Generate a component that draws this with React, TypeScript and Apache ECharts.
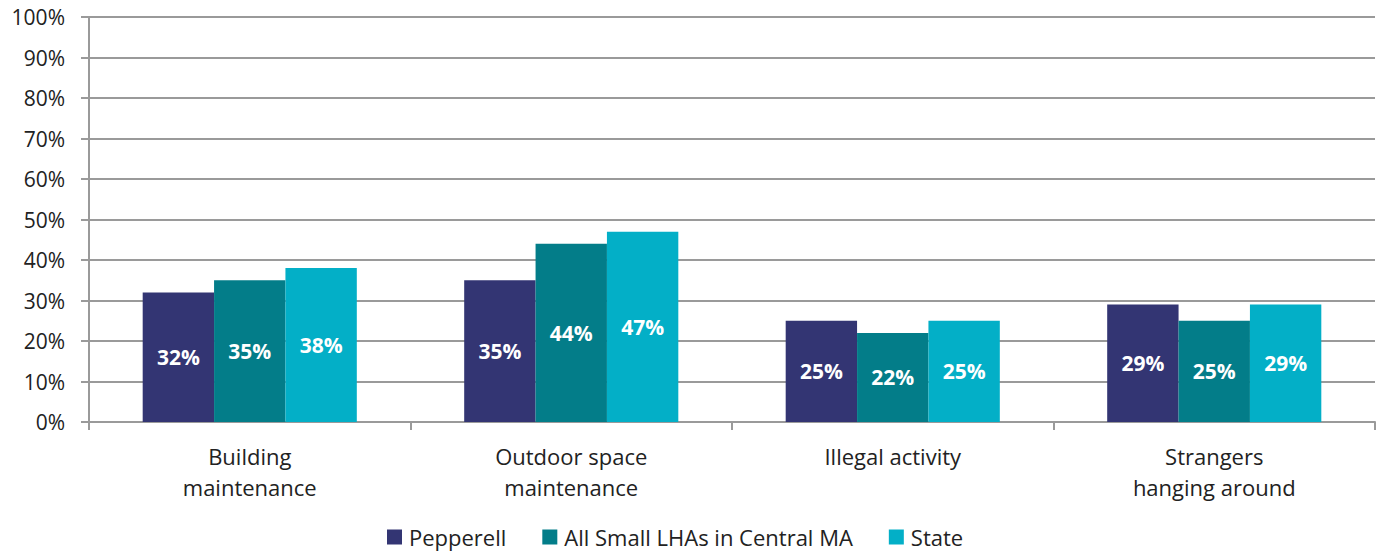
import React, { useEffect, useRef } from "react";
import * as echarts from "echarts";

const categories = ["Building\nmaintenance", "Outdoor space\nmaintenance", "Illegal activity", "Strangers\nhanging around"];
const pepperell = [32, 35, 25, 29];
const centralMA = [35, 44, 22, 25];
const state = [38, 47, 25, 29];
const seriesNames = ["Pepperell", "All Small LHAs in Central MA", "State"];
const colors = ["#333573", "#037D89", "#03AFC7"];

const FONT = "'Open Sans', 'Noto Sans', sans-serif";

export default function App() {
  const ref = useRef<HTMLDivElement>(null);
  useEffect(() => {
    if (!ref.current) return;
    const chart = echarts.init(ref.current, null, { renderer: "svg" });
    const label = {
      show: true,
      position: "inside" as const,
      color: "#ffffff",
      fontWeight: "bold" as const,
      fontSize: 21,
      fontFamily: FONT,
      formatter: (p: any) => p.value + "%",
    };
    const datas = [pepperell, centralMA, state];
    chart.setOption({
      animation: false,
      textStyle: { fontFamily: FONT },
      grid: { left: 89, right: 7, top: 17, bottom: 134, containLabel: false },
      legend: {
        top: 526,
        left: 387,
        padding: 0,
        itemWidth: 15,
        itemHeight: 15,
        itemGap: 36,
        icon: "rect",
        textStyle: { fontSize: 22, color: "#222", fontFamily: FONT, padding: [0, 0, 0, 2] },
        data: seriesNames,
      },
      xAxis: {
        type: "category",
        data: categories,
        axisLine: { lineStyle: { color: "#9a9a9a", width: 2 } },
        axisTick: { show: true, length: 8, lineStyle: { color: "#9a9a9a", width: 2 } },
        axisLabel: { fontSize: 22, color: "#222", lineHeight: 31, margin: 18, fontFamily: FONT },
      },
      yAxis: {
        type: "value",
        min: 0,
        max: 100,
        interval: 10,
        axisLine: { show: true, lineStyle: { color: "#9a9a9a", width: 2 } },
        axisTick: { show: true, length: 8, lineStyle: { color: "#9a9a9a", width: 2 } },
        splitLine: { lineStyle: { color: "#9a9a9a", width: 2 } },
        axisLabel: { formatter: "{value}%", fontSize: 21, color: "#222", margin: 24, fontFamily: FONT },
      },
      series: seriesNames.map((name, i) => ({
        name,
        type: "bar",
        data: datas[i],
        barGap: "0%",
        barCategoryGap: "33.4%",
        itemStyle: { color: colors[i] },
        label,
      })),
    });
    return () => chart.dispose();
  }, []);
  return (
    <div
      ref={ref}
      style={{ position: "absolute", left: 0, top: 0, width: 1382, height: 556, background: "#fff" }}
    />
  );
}
